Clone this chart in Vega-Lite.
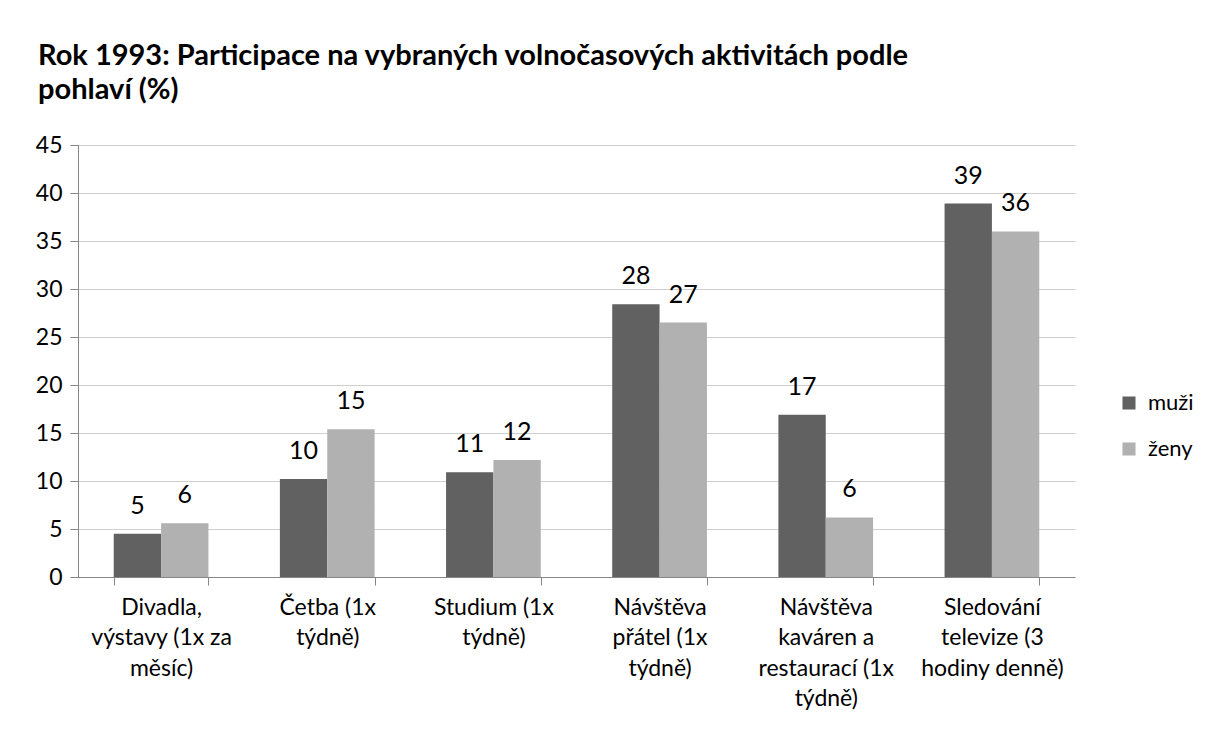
{
  "$schema": "https://vega.github.io/schema/vega-lite/v6.json",
  "width": 997,
  "height": 432,
  "autosize": "none",
  "padding": {"left": 78, "top": 145, "right": 133, "bottom": 159},
  "background": "white",
  "title": {
    "text": ["Rok 1993: Participace na vybraných volnočasových aktivitách podle", "pohlaví (%)"],
    "anchor": "start",
    "frame": "group",
    "dx": -40,
    "offset": 29,
    "font": "Lato",
    "fontSize": 29,
    "fontWeight": "bold",
    "color": "#000000",
    "lineHeight": 34
  },
  "data": {
    "values": [
      {"aktivita": "Divadla, výstavy (1x za měsíc)", "pohlavi": "muži", "hodnota": 4.5},
      {"aktivita": "Divadla, výstavy (1x za měsíc)", "pohlavi": "ženy", "hodnota": 5.6},
      {"aktivita": "Četba (1x týdně)", "pohlavi": "muži", "hodnota": 10.2},
      {"aktivita": "Četba (1x týdně)", "pohlavi": "ženy", "hodnota": 15.4},
      {"aktivita": "Studium (1x týdně)", "pohlavi": "muži", "hodnota": 10.9},
      {"aktivita": "Studium (1x týdně)", "pohlavi": "ženy", "hodnota": 12.2},
      {"aktivita": "Návštěva přátel (1x týdně)", "pohlavi": "muži", "hodnota": 28.4},
      {"aktivita": "Návštěva přátel (1x týdně)", "pohlavi": "ženy", "hodnota": 26.5},
      {"aktivita": "Návštěva kaváren a restaurací (1x týdně)", "pohlavi": "muži", "hodnota": 16.9},
      {"aktivita": "Návštěva kaváren a restaurací (1x týdně)", "pohlavi": "ženy", "hodnota": 6.2},
      {"aktivita": "Sledování televize (3 hodiny denně)", "pohlavi": "muži", "hodnota": 38.9},
      {"aktivita": "Sledování televize (3 hodiny denně)", "pohlavi": "ženy", "hodnota": 36.0}
    ]
  },
  "encoding": {
    "x": {
      "field": "aktivita",
      "type": "nominal",
      "sort": null,
      "title": null,
      "scale": {"paddingInner": 0.43, "paddingOuter": 0.215},
      "axis": {
        "labelAngle": 0,
        "labelFont": "Lato",
        "labelFontSize": 23,
        "labelColor": "#000000",
        "labelLineHeight": 30.5,
        "labelPadding": 11,
        "labelBaseline": "top",
        "labelLimit": 300,
        "domainColor": "#868686",
        "domainWidth": 1,
        "tickColor": "#868686",
        "tickSize": 8,
        "tickBand": "extent",
        "labelExpr": "{'Divadla, výstavy (1x za měsíc)': ['Divadla,', 'výstavy (1x za', 'měsíc)'], 'Četba (1x týdně)': ['Četba (1x', 'týdně)'], 'Studium (1x týdně)': ['Studium (1x', 'týdně)'], 'Návštěva přátel (1x týdně)': ['Návštěva', 'přátel (1x', 'týdně)'], 'Návštěva kaváren a restaurací (1x týdně)': ['Návštěva', 'kaváren a', 'restaurací (1x', 'týdně)'], 'Sledování televize (3 hodiny denně)': ['Sledování', 'televize (3', 'hodiny denně)']}[datum.value]"
      }
    },
    "xOffset": {"field": "pohlavi", "type": "nominal", "sort": ["muži", "ženy"]},
    "y": {
      "field": "hodnota",
      "type": "quantitative",
      "title": null,
      "scale": {"domain": [0, 45], "nice": false},
      "axis": {
        "values": [0, 5, 10, 15, 20, 25, 30, 35, 40, 45],
        "labelFont": "Lato",
        "labelFontSize": 23,
        "labelColor": "#000000",
        "labelPadding": 8,
        "domainColor": "#868686",
        "tickColor": "#868686",
        "tickSize": 8,
        "gridColor": "#cfcfcf",
        "gridWidth": 1
      }
    }
  },
  "layer": [
    {
      "mark": {"type": "bar"},
      "encoding": {
        "color": {
          "field": "pohlavi",
          "type": "nominal",
          "sort": ["muži", "ženy"],
          "scale": {"domain": ["muži", "ženy"], "range": ["#616161", "#b1b1b1"]},
          "legend": {
            "title": null,
            "orient": "none",
            "legendX": 1040,
            "legendY": 247,
            "symbolType": "square",
            "symbolSize": 170,
            "symbolStrokeWidth": 0,
            "labelFont": "Lato",
            "labelFontSize": 22,
            "labelColor": "#000000",
            "labelOffset": 8,
            "rowPadding": 24
          }
        }
      }
    },
    {
      "mark": {"type": "text", "baseline": "alphabetic", "dy": -20, "font": "Lato", "fontSize": 25, "color": "#000000"},
      "encoding": {
        "text": {"field": "hodnota", "type": "quantitative", "format": ".0f"}
      }
    }
  ],
  "config": {
    "view": {"stroke": null},
    "axis": {"labelFont": "Lato"}
  }
}
